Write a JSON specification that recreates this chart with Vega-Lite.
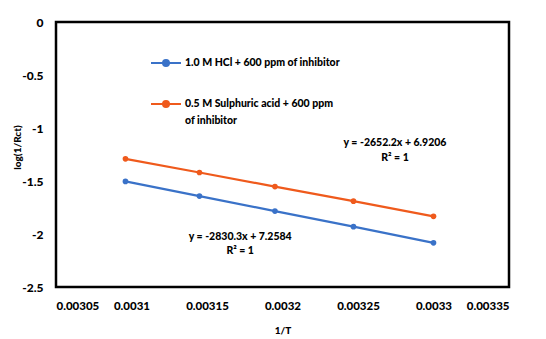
{
  "$schema": "https://vega.github.io/schema/vega-lite/v6.json",
  "autosize": "none",
  "width": 453,
  "height": 265,
  "padding": {"left": 56, "top": 22, "right": 37, "bottom": 52},
  "background": "white",
  "config": {
    "font": "Lato, sans-serif",
    "view": {"stroke": "black", "strokeWidth": 2.5}
  },
  "datasets": {
    "pts": [
      {"series": "1.0 M HCl + 600 ppm of inhibitor", "x": 0.003096, "y": -1.504},
      {"series": "1.0 M HCl + 600 ppm of inhibitor", "x": 0.003145, "y": -1.642},
      {"series": "1.0 M HCl + 600 ppm of inhibitor", "x": 0.003195, "y": -1.784},
      {"series": "1.0 M HCl + 600 ppm of inhibitor", "x": 0.003247, "y": -1.931},
      {"series": "1.0 M HCl + 600 ppm of inhibitor", "x": 0.0033, "y": -2.083},
      {"series": "0.5 M Sulphuric acid + 600 ppm of inhibitor", "x": 0.003096, "y": -1.291},
      {"series": "0.5 M Sulphuric acid + 600 ppm of inhibitor", "x": 0.003145, "y": -1.420},
      {"series": "0.5 M Sulphuric acid + 600 ppm of inhibitor", "x": 0.003195, "y": -1.553},
      {"series": "0.5 M Sulphuric acid + 600 ppm of inhibitor", "x": 0.003247, "y": -1.690},
      {"series": "0.5 M Sulphuric acid + 600 ppm of inhibitor", "x": 0.0033, "y": -1.833}
    ],
    "eq": [
      {"x": 0.0032745, "y": -1.142, "t": "y = -2652.2x + 6.9206"},
      {"x": 0.0032745, "y": -1.283, "t": "R² = 1"},
      {"x": 0.003172, "y": -2.028, "t": "y = -2830.3x + 7.2584"},
      {"x": 0.003172, "y": -2.160, "t": "R² = 1"}
    ]
  },
  "layer": [
    {
      "data": {"name": "pts"},
      "mark": {"type": "line", "strokeWidth": 2.2, "point": {"size": 32, "filled": true}},
      "encoding": {
        "x": {
          "field": "x", "type": "quantitative",
          "scale": {"domain": [0.00305, 0.00335], "nice": false, "zero": false},
          "axis": {
            "title": "1/T", "values": [0.00305, 0.0031, 0.00315, 0.0032, 0.00325, 0.0033, 0.00335],
            "labelExpr": "datum.value == 0.0031 ? '0.0031' : datum.value == 0.0032 ? '0.0032' : datum.value == 0.0033 ? '0.0033' : format(datum.value, '.5f')",
            "grid": false, "ticks": false, "domain": false,
            "labelFontSize": 11.5, "labelFontWeight": 900, "labelColor": "black", "labelPadding": 13,
            "titleFontSize": 10, "titleFontWeight": 900, "titleColor": "black", "titlePadding": 14
          }
        },
        "y": {
          "field": "y", "type": "quantitative",
          "scale": {"domain": [-2.5, 0], "nice": false},
          "axis": {
            "title": "log(1/Rct)", "values": [-2.5, -2, -1.5, -1, -0.5, 0],
            "labelExpr": "replace(format(datum.value, ''), '−', '-')",
            "grid": false, "ticks": false, "domain": false,
            "labelFontSize": 12, "labelFontWeight": 900, "labelColor": "black", "labelPadding": 13,
            "titleFontSize": 10, "titleFontWeight": 900, "titleColor": "black",
            "titleX": -34, "titleY": 125
          }
        },
        "color": {
          "field": "series", "type": "nominal",
          "scale": {
            "domain": ["1.0 M HCl + 600 ppm of inhibitor", "0.5 M Sulphuric acid + 600 ppm of inhibitor"],
            "range": ["#3A72C8", "#EF5A1C"]
          },
          "legend": {
            "title": null, "orient": "none", "legendX": 94, "legendY": 25,
            "symbolType": "M-1,0L1,0M-0.2,0a0.2,0.2 0 1,0 0.4,0a0.2,0.2 0 1,0 -0.4,0",
            "symbolSize": 900, "symbolStrokeWidth": 2,
            "labelFontSize": 10.5, "labelFontWeight": 900, "labelColor": "black", "labelLimit": 400,
            "labelOffset": 3, "rowPadding": 18,
            "labelExpr": "datum.label == '0.5 M Sulphuric acid + 600 ppm of inhibitor' ? ['0.5 M Sulphuric acid + 600 ppm', 'of inhibitor'] : datum.label",
            "encode": {
              "symbols": {"update": {"fill": {"scale": "color", "field": "value"}}},
              "labels": {"update": {"lineHeight": {"value": 17}}}
            }
          }
        }
      }
    },
    {
      "data": {"name": "eq"},
      "mark": {"type": "text", "fontSize": 10.5, "fontWeight": 900, "color": "black", "align": "center", "baseline": "middle"},
      "encoding": {
        "x": {"field": "x", "type": "quantitative"},
        "y": {"field": "y", "type": "quantitative"},
        "text": {"field": "t"}
      }
    }
  ]
}
